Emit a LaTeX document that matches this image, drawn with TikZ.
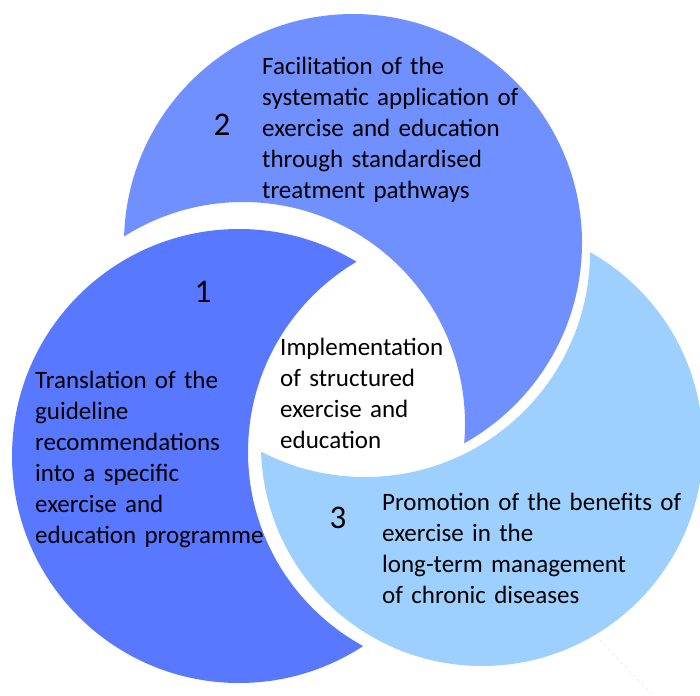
\documentclass[tikz,border=0pt]{standalone}
\usepackage{fontspec}
\setmainfont{Carlito}
\definecolor{cone}{RGB}{88,120,255}
\definecolor{ctwo}{RGB}{112,144,255}
\definecolor{cthree}{RGB}{157,208,255}
\begin{document}
\begin{tikzpicture}[x=1pt,y=-1pt,
  txt/.style={anchor=base west, inner sep=0pt, text width=#1, align=left, font=\fontsize{25}{31}\selectfont},
  num/.style={inner sep=0pt, font=\fontsize{33}{33}\selectfont}]
\useasboundingbox (0,0) rectangle (700,695);
% crescent 2 (top)
\begin{scope}
  \clip (353,243) circle (229pt);
  \fill[ctwo, even odd rule] (-10,-10) rectangle (710,705) (243,424) circle (222pt);
\end{scope}
% crescent 1 (left)
\begin{scope}
  \clip (239,456) circle (227pt);
  \fill[cone, even odd rule] (-10,-10) rectangle (710,705) (469,452) circle (221pt);
\end{scope}
% crescent 3 (right)
\begin{scope}
  \clip (482,445) circle (221pt);
  \fill[cthree, even odd rule] (-10,-10) rectangle (710,705) (365,252) circle (225pt);
\end{scope}
% faint scan mark
\draw[gray!25, thin, dashed] (600,640) -- (652,695);
% numbers
\node[num] (n2) at (222,125) {2};
\node[num] (n1) at (203,292) {1};
\node[num] (n3) at (338,518) {3};
% texts
\node[txt=340pt] (t2) at (262,75) {Facilitation of the\\systematic application of\\exercise and education\\through standardised\\treatment pathways};
\node[txt=340pt] (t1) at (35,388) {Translation of the\\guideline\\recommendations\\into a specific\\exercise and\\education programme};
\node[txt=240pt] (tc) at (280,355) {Implementation\\of structured\\exercise and\\education};
\node[txt=340pt] (t3) at (382,510) {Promotion of the benefits of\\exercise in the\\long-term management\\of chronic diseases};
\end{tikzpicture}
\end{document}
